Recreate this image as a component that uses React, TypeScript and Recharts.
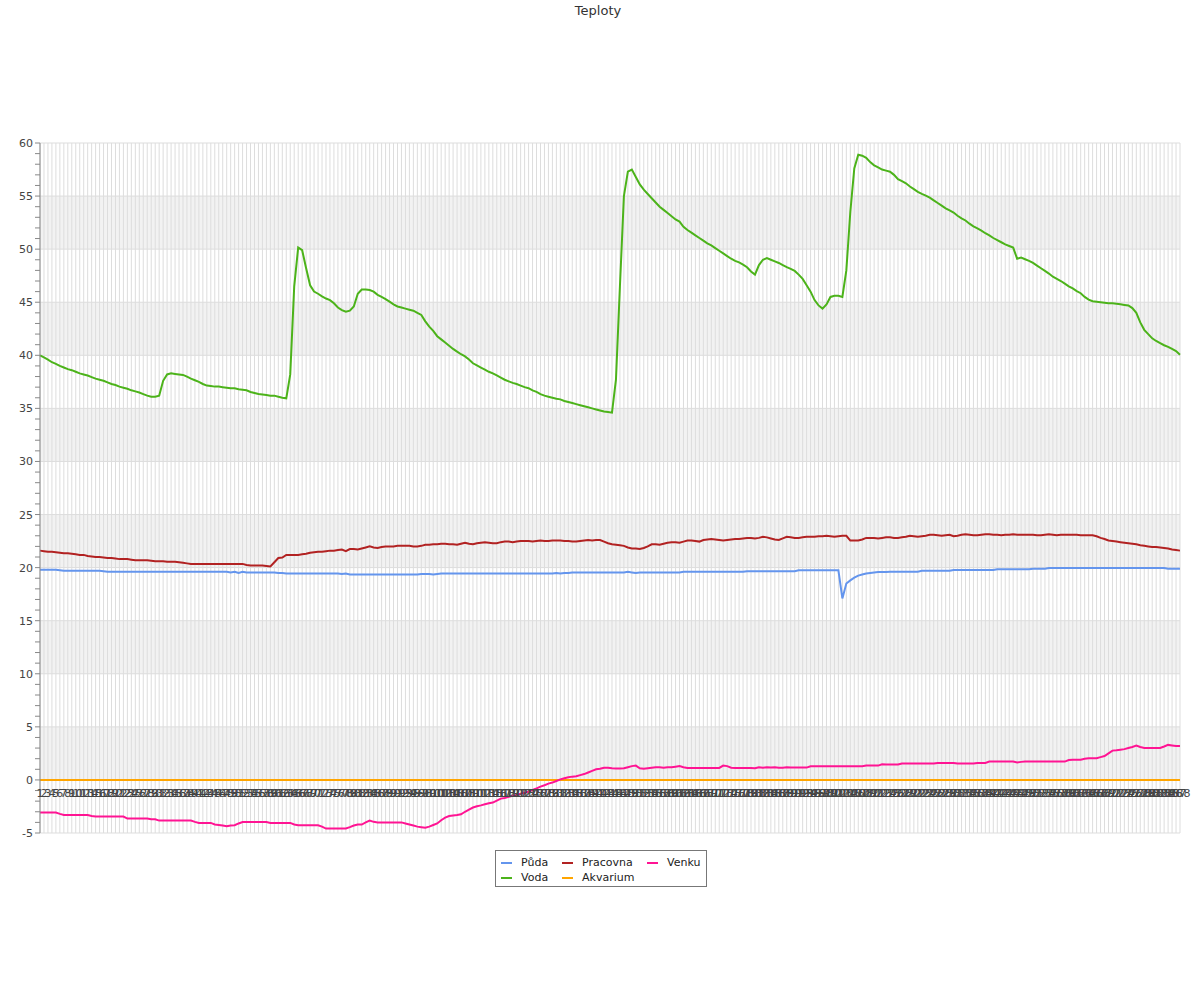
import { LineChart, Line, XAxis, YAxis, CartesianGrid, ReferenceLine } from "recharts";

// 288 measurements (every 5 minutes), labelled 1..288
const CATEGORIES = Array.from({ length: 288 }, (_, i) => String(i + 1));

const Y_TICKS = Array.from({ length: 66 }, (_, i) => i - 5);
const MAJOR_TICKS = [-5, 0, 5, 10, 15, 20, 25, 30, 35, 40, 45, 50, 55, 60];

const PUDA = [
  19.8, 19.8, 19.8, 19.8, 19.8, 19.75, 19.7, 19.7, 19.7, 19.7, 19.7, 19.7,
  19.7, 19.7, 19.7, 19.7, 19.65, 19.6, 19.6, 19.6, 19.6, 19.6, 19.6, 19.6,
  19.6, 19.6, 19.6, 19.6, 19.6, 19.6, 19.6, 19.6, 19.6, 19.6, 19.6, 19.6,
  19.6, 19.6, 19.6, 19.6, 19.6, 19.6, 19.6, 19.6, 19.6, 19.6, 19.6, 19.6,
  19.55, 19.6, 19.5, 19.6, 19.55, 19.55, 19.55, 19.55, 19.55, 19.55, 19.55, 19.55,
  19.5, 19.5, 19.45, 19.45, 19.45, 19.45, 19.45, 19.45, 19.45, 19.45, 19.45, 19.45,
  19.45, 19.45, 19.45, 19.45, 19.4, 19.45, 19.35, 19.35, 19.35, 19.35, 19.35, 19.35,
  19.35, 19.35, 19.35, 19.35, 19.35, 19.35, 19.35, 19.35, 19.35, 19.35, 19.35, 19.35,
  19.4, 19.4, 19.4, 19.35, 19.4, 19.45, 19.45, 19.45, 19.45, 19.45, 19.45, 19.45,
  19.45, 19.45, 19.45, 19.45, 19.45, 19.45, 19.45, 19.45, 19.45, 19.45, 19.45, 19.45,
  19.45, 19.45, 19.45, 19.45, 19.45, 19.45, 19.45, 19.45, 19.45, 19.45, 19.5, 19.45,
  19.5, 19.5, 19.55, 19.55, 19.55, 19.55, 19.55, 19.55, 19.55, 19.55, 19.55, 19.55,
  19.55, 19.55, 19.55, 19.55, 19.6, 19.55, 19.5, 19.55, 19.55, 19.55, 19.55, 19.55,
  19.55, 19.55, 19.55, 19.55, 19.55, 19.55, 19.6, 19.6, 19.6, 19.6, 19.6, 19.6,
  19.6, 19.6, 19.6, 19.6, 19.6, 19.6, 19.6, 19.6, 19.6, 19.6, 19.65, 19.65,
  19.65, 19.65, 19.65, 19.65, 19.65, 19.65, 19.65, 19.65, 19.65, 19.65, 19.65, 19.75,
  19.75, 19.75, 19.75, 19.75, 19.75, 19.75, 19.75, 19.75, 19.75, 19.75, 17.1, 18.5,
  18.8, 19.05, 19.25, 19.35, 19.45, 19.5, 19.55, 19.58, 19.58, 19.58, 19.62, 19.62,
  19.62, 19.62, 19.62, 19.62, 19.62, 19.62, 19.7, 19.7, 19.7, 19.7, 19.7, 19.7,
  19.7, 19.7, 19.78, 19.78, 19.78, 19.78, 19.78, 19.78, 19.78, 19.78, 19.78, 19.78,
  19.78, 19.84, 19.84, 19.84, 19.84, 19.84, 19.84, 19.84, 19.84, 19.84, 19.9, 19.9,
  19.9, 19.9, 19.97, 19.97, 19.97, 19.97, 19.97, 19.97, 19.97, 19.97, 19.97, 19.97,
  19.97, 19.97, 19.97, 19.97, 19.97, 19.97, 19.97, 19.97, 19.97, 19.97, 19.97, 19.97,
  19.97, 19.97, 19.97, 19.97, 19.97, 19.97, 19.97, 19.97, 19.9, 19.9, 19.9, 19.9,
];

const VODA = [
  40.0, 39.8, 39.6, 39.35, 39.2, 39.0, 38.85, 38.7, 38.6, 38.45, 38.3, 38.2,
  38.1, 37.95, 37.8, 37.7, 37.6, 37.45, 37.3, 37.2, 37.05, 36.95, 36.85, 36.7,
  36.6, 36.5, 36.35, 36.2, 36.1, 36.1, 36.2, 37.6, 38.2, 38.3, 38.25, 38.2,
  38.15, 38.0, 37.8, 37.65, 37.5, 37.3, 37.15, 37.1, 37.05, 37.05, 37.0, 36.95,
  36.9, 36.9, 36.8, 36.75, 36.7, 36.55, 36.45, 36.35, 36.3, 36.25, 36.2, 36.2,
  36.1, 36.0, 35.95, 38.2, 46.5, 50.15, 49.9, 48.2, 46.6, 46.0, 45.8, 45.55,
  45.35, 45.2, 44.9, 44.5, 44.25, 44.1, 44.2, 44.6, 45.8, 46.2, 46.2, 46.15,
  46.0, 45.7, 45.5, 45.3, 45.05, 44.8, 44.6, 44.5, 44.4, 44.3, 44.2, 44.0,
  43.8, 43.2, 42.7, 42.3, 41.8, 41.5, 41.2, 40.9, 40.6, 40.35, 40.1, 39.9,
  39.6, 39.25, 39.05, 38.85, 38.65, 38.45, 38.3, 38.1, 37.9, 37.7, 37.55, 37.4,
  37.3, 37.15, 37.0, 36.9, 36.7, 36.55, 36.35, 36.2, 36.1, 36.0, 35.9, 35.85,
  35.7, 35.6, 35.5, 35.4, 35.3, 35.2, 35.1, 35.0, 34.9, 34.8, 34.7, 34.65,
  34.6, 37.7, 46.5, 55.0, 57.3, 57.5, 56.8, 56.1, 55.6, 55.2, 54.8, 54.4,
  54.0, 53.7, 53.4, 53.1, 52.8, 52.6, 52.1, 51.8, 51.55, 51.3, 51.05, 50.8,
  50.55, 50.35, 50.1, 49.85, 49.6, 49.35, 49.1, 48.9, 48.75, 48.55, 48.3, 47.9,
  47.6, 48.5, 49.0, 49.15, 49.0, 48.85, 48.7, 48.5, 48.3, 48.15, 47.95, 47.6,
  47.2, 46.6, 46.0, 45.2, 44.7, 44.4, 44.8, 45.5, 45.6, 45.6, 45.5, 48.0,
  53.5, 57.6, 58.9, 58.8, 58.6, 58.2, 57.9, 57.7, 57.5, 57.4, 57.3, 57.0,
  56.6, 56.4, 56.2, 55.9, 55.65, 55.4, 55.2, 55.05, 54.85, 54.6, 54.35, 54.1,
  53.85, 53.65, 53.45, 53.15, 52.9, 52.7, 52.4, 52.15, 51.95, 51.75, 51.5, 51.3,
  51.05, 50.85, 50.65, 50.45, 50.3, 50.15, 49.1, 49.2, 49.05, 48.9, 48.7, 48.45,
  48.2, 47.95, 47.7, 47.4, 47.2, 47.0, 46.75, 46.5, 46.3, 46.05, 45.85, 45.5,
  45.25, 45.1, 45.05, 45.0, 44.95, 44.9, 44.9, 44.85, 44.8, 44.75, 44.7, 44.45,
  44.0, 43.1, 42.4, 42.0, 41.6, 41.35, 41.15, 40.95, 40.8, 40.6, 40.4, 40.05,
];

const PRACOVNA = [
  21.6, 21.55, 21.5, 21.5, 21.45, 21.4, 21.35, 21.35, 21.3, 21.25, 21.2, 21.2,
  21.1, 21.05, 21.0, 21.0, 20.95, 20.9, 20.9, 20.85, 20.8, 20.8, 20.8, 20.75,
  20.7, 20.7, 20.7, 20.7, 20.65, 20.6, 20.6, 20.6, 20.55, 20.55, 20.55, 20.5,
  20.45, 20.4, 20.35, 20.35, 20.35, 20.35, 20.35, 20.35, 20.35, 20.35, 20.35, 20.35,
  20.35, 20.35, 20.35, 20.35, 20.25, 20.2, 20.2, 20.2, 20.2, 20.15, 20.1, 20.5,
  20.9, 20.95, 21.2, 21.2, 21.2, 21.2, 21.25, 21.3, 21.4, 21.45, 21.5, 21.5,
  21.55, 21.6, 21.6, 21.65, 21.7, 21.55, 21.75, 21.75, 21.7, 21.8, 21.9, 22.0,
  21.9, 21.85, 21.95, 22.0, 22.0, 22.0, 22.05, 22.05, 22.05, 22.05, 22.0, 22.0,
  22.05, 22.15, 22.15, 22.2, 22.2, 22.25, 22.25, 22.2, 22.2, 22.15, 22.25, 22.35,
  22.25, 22.2, 22.3, 22.35, 22.4, 22.35, 22.3, 22.3, 22.4, 22.45, 22.45, 22.4,
  22.45, 22.5, 22.5, 22.5, 22.45, 22.5, 22.55, 22.5, 22.5, 22.55, 22.55, 22.55,
  22.5, 22.5, 22.45, 22.45, 22.5, 22.55, 22.6, 22.55, 22.6, 22.6, 22.45, 22.3,
  22.2, 22.15, 22.1, 22.05, 21.9, 21.8, 21.8, 21.75, 21.85, 22.0, 22.2, 22.2,
  22.15, 22.25, 22.35, 22.4, 22.4, 22.35, 22.45, 22.55, 22.55, 22.5, 22.45, 22.6,
  22.65, 22.7, 22.65, 22.6, 22.55, 22.6, 22.65, 22.7, 22.7, 22.75, 22.8, 22.8,
  22.75, 22.8, 22.9, 22.85, 22.75, 22.65, 22.6, 22.75, 22.9, 22.85, 22.8, 22.8,
  22.85, 22.9, 22.9, 22.9, 22.95, 22.95, 23.0, 22.95, 22.9, 22.95, 23.0, 23.0,
  22.55, 22.55, 22.55, 22.65, 22.8, 22.8, 22.8, 22.75, 22.8, 22.85, 22.85, 22.8,
  22.8, 22.85, 22.9, 23.0, 22.95, 22.9, 22.95, 23.0, 23.1, 23.1, 23.05, 23.0,
  23.05, 23.1, 22.95, 23.0, 23.1, 23.15, 23.1, 23.05, 23.05, 23.1, 23.15, 23.15,
  23.1, 23.1, 23.05, 23.1, 23.1, 23.15, 23.1, 23.1, 23.1, 23.1, 23.1, 23.05,
  23.05, 23.1, 23.15, 23.1, 23.05, 23.1, 23.1, 23.1, 23.1, 23.1, 23.05, 23.05,
  23.05, 23.05, 22.95, 22.8, 22.7, 22.55, 22.5, 22.45, 22.4, 22.35, 22.3, 22.25,
  22.2, 22.1, 22.05, 22.0, 21.95, 21.95, 21.9, 21.85, 21.8, 21.7, 21.65, 21.6,
];

const AKVARIUM = [
  0, 0, 0, 0, 0, 0, 0, 0, 0, 0, 0, 0, 0, 0, 0, 0, 0, 0, 0, 0, 0, 0, 0, 0,
  0, 0, 0, 0, 0, 0, 0, 0, 0, 0, 0, 0, 0, 0, 0, 0, 0, 0, 0, 0, 0, 0, 0, 0,
  0, 0, 0, 0, 0, 0, 0, 0, 0, 0, 0, 0, 0, 0, 0, 0, 0, 0, 0, 0, 0, 0, 0, 0,
  0, 0, 0, 0, 0, 0, 0, 0, 0, 0, 0, 0, 0, 0, 0, 0, 0, 0, 0, 0, 0, 0, 0, 0,
  0, 0, 0, 0, 0, 0, 0, 0, 0, 0, 0, 0, 0, 0, 0, 0, 0, 0, 0, 0, 0, 0, 0, 0,
  0, 0, 0, 0, 0, 0, 0, 0, 0, 0, 0, 0, 0, 0, 0, 0, 0, 0, 0, 0, 0, 0, 0, 0,
  0, 0, 0, 0, 0, 0, 0, 0, 0, 0, 0, 0, 0, 0, 0, 0, 0, 0, 0, 0, 0, 0, 0, 0,
  0, 0, 0, 0, 0, 0, 0, 0, 0, 0, 0, 0, 0, 0, 0, 0, 0, 0, 0, 0, 0, 0, 0, 0,
  0, 0, 0, 0, 0, 0, 0, 0, 0, 0, 0, 0, 0, 0, 0, 0, 0, 0, 0, 0, 0, 0, 0, 0,
  0, 0, 0, 0, 0, 0, 0, 0, 0, 0, 0, 0, 0, 0, 0, 0, 0, 0, 0, 0, 0, 0, 0, 0,
  0, 0, 0, 0, 0, 0, 0, 0, 0, 0, 0, 0, 0, 0, 0, 0, 0, 0, 0, 0, 0, 0, 0, 0,
  0, 0, 0, 0, 0, 0, 0, 0, 0, 0, 0, 0, 0, 0, 0, 0, 0, 0, 0, 0, 0, 0, 0, 0,
];

const VENKU = [
  -3.08, -3.08, -3.08, -3.08, -3.08, -3.2, -3.3, -3.3, -3.3, -3.3, -3.3, -3.3,
  -3.3, -3.4, -3.45, -3.45, -3.45, -3.45, -3.45, -3.45, -3.45, -3.45, -3.64, -3.64,
  -3.64, -3.64, -3.64, -3.64, -3.7, -3.7, -3.83, -3.83, -3.83, -3.83, -3.83, -3.83,
  -3.83, -3.83, -3.83, -3.95, -4.05, -4.05, -4.05, -4.05, -4.2, -4.25, -4.3, -4.36,
  -4.3, -4.27, -4.1, -3.96, -3.96, -3.96, -3.96, -3.96, -3.96, -3.96, -4.05, -4.05,
  -4.05, -4.05, -4.05, -4.05, -4.2, -4.27, -4.27, -4.27, -4.27, -4.27, -4.27, -4.4,
  -4.58, -4.58, -4.58, -4.58, -4.58, -4.58, -4.45, -4.3, -4.2, -4.2, -4.0, -3.83,
  -3.95, -4.0, -4.0, -4.0, -4.0, -4.0, -4.0, -4.0, -4.1, -4.2, -4.3, -4.4,
  -4.45, -4.5, -4.4, -4.25, -4.1, -3.8, -3.55, -3.4, -3.35, -3.3, -3.24, -3.0,
  -2.8, -2.6, -2.48, -2.4, -2.3, -2.2, -2.13, -1.95, -1.76, -1.7, -1.6, -1.5,
  -1.41, -1.3, -1.2, -1.1, -0.95, -0.8, -0.63, -0.5, -0.35, -0.25, -0.1, 0.05,
  0.15, 0.25, 0.31, 0.35, 0.45, 0.55, 0.7, 0.85, 1.0, 1.05, 1.15, 1.15,
  1.1, 1.07, 1.07, 1.1, 1.2, 1.3, 1.35, 1.1, 1.05, 1.1, 1.15, 1.2,
  1.2, 1.15, 1.2, 1.2, 1.25, 1.3, 1.2, 1.13, 1.13, 1.13, 1.13, 1.13,
  1.13, 1.13, 1.13, 1.13, 1.35, 1.3, 1.15, 1.13, 1.13, 1.13, 1.13, 1.13,
  1.1, 1.2, 1.15, 1.2, 1.18, 1.2, 1.15, 1.15, 1.2, 1.16, 1.16, 1.16,
  1.16, 1.16, 1.29, 1.29, 1.29, 1.29, 1.29, 1.29, 1.29, 1.29, 1.29, 1.29,
  1.29, 1.29, 1.29, 1.29, 1.35, 1.35, 1.35, 1.35, 1.48, 1.45, 1.45, 1.45,
  1.45, 1.54, 1.54, 1.54, 1.54, 1.54, 1.55, 1.55, 1.55, 1.55, 1.6, 1.6,
  1.6, 1.6, 1.6, 1.54, 1.54, 1.54, 1.54, 1.54, 1.6, 1.6, 1.6, 1.73,
  1.73, 1.73, 1.73, 1.73, 1.73, 1.73, 1.65, 1.7, 1.73, 1.73, 1.73, 1.73,
  1.73, 1.73, 1.73, 1.73, 1.73, 1.73, 1.73, 1.88, 1.9, 1.9, 1.9, 2.0,
  2.05, 2.05, 2.05, 2.15, 2.25, 2.5, 2.76, 2.8, 2.85, 2.9, 3.0, 3.1,
  3.23, 3.1, 3.01, 3.01, 3.01, 3.01, 3.01, 3.15, 3.3, 3.25, 3.2, 3.2,
];

const SERIES = [
  { key: "puda", name: "Půda", color: "#6495ED", values: PUDA },
  { key: "voda", name: "Voda", color: "#4CB31A", values: VODA },
  { key: "pracovna", name: "Pracovna", color: "#B22222", values: PRACOVNA },
  { key: "akvarium", name: "Akvarium", color: "#FFA500", values: AKVARIUM },
  { key: "venku", name: "Venku", color: "#FF1493", values: VENKU },
];

const data = CATEGORIES.map((n, i) => {
  const row: Record<string, string | number> = { n };
  SERIES.forEach((s) => {
    row[s.key] = s.values[i];
  });
  return row;
});

const FONT = "'DejaVu Sans', sans-serif";

// x labels sit just under the zero line, not at the bottom of the plot
function XTick({ x, y, payload }: any) {
  return (
    <text x={x} y={y - 36} textAnchor="middle" fontSize={11} fill="#444" fontFamily={FONT}>
      {payload.value}
    </text>
  );
}

function YTick({ x, y, payload }: any) {
  if (payload.value % 5 !== 0) return <g />;
  return (
    <text x={x} y={y} dy={4} textAnchor="end" fontSize={11} fill="#444" fontFamily={FONT}>
      {payload.value}
    </text>
  );
}

function ChartLegend() {
  const cols = [
    [SERIES[0], SERIES[1]],
    [SERIES[2], SERIES[3]],
    [SERIES[4]],
  ];
  const colWidths = [61, 85, 58];
  return (
    <div
      style={{
        position: "absolute",
        left: 495,
        top: 850,
        width: 212,
        height: 37,
        border: "1px solid #777",
        background: "#fff",
        display: "flex",
        paddingLeft: 5,
        boxSizing: "border-box",
        fontFamily: FONT,
        fontSize: 11,
        color: "#222",
      }}
    >
      {cols.map((col, ci) => (
        <div key={ci} style={{ width: colWidths[ci], paddingTop: 4 }}>
          {col.map((s) => (
            <div key={s.key} style={{ display: "flex", alignItems: "center", height: 15 }}>
              <span
                style={{ display: "inline-block", width: 11, height: 2, background: s.color, marginRight: 9 }}
              />
              <span>{s.name}</span>
            </div>
          ))}
        </div>
      ))}
    </div>
  );
}

export default function App() {
  return (
    <div style={{ position: "absolute", left: 0, top: 0, width: 1200, height: 1000, background: "#fff" }}>
      <div
        style={{
          position: "absolute",
          top: 3,
          left: 0,
          width: 1196,
          textAlign: "center",
          fontFamily: FONT,
          fontSize: 13,
          color: "#333",
        }}
      >
        Teploty
      </div>
      <LineChart width={1200} height={1000} data={data} margin={{ top: 143, right: 20, left: 0, bottom: 137 }}>
        <CartesianGrid
          stroke="#dddddd"
          horizontalValues={MAJOR_TICKS}
          horizontalFill={["rgba(0,0,0,0)", "rgba(0,0,0,0.05)"]}
          fillOpacity={1}
        />
        <XAxis
          dataKey="n"
          interval={0}
          height={30}
          axisLine={false}
          tickLine={false}
          tickSize={0}
          tickMargin={0}
          tick={<XTick />}
        />
        <YAxis
          type="number"
          domain={[-5, 60]}
          ticks={Y_TICKS}
          interval={0}
          width={40}
          stroke="#888"
          tickSize={5}
          tick={<YTick />}
        />
        <ReferenceLine y={0} stroke="#888" />
        {SERIES.map((s) => (
          <Line
            key={s.key}
            type="linear"
            dataKey={s.key}
            name={s.name}
            stroke={s.color}
            strokeWidth={2}
            dot={false}
            activeDot={false}
            isAnimationActive={false}
          />
        ))}
      </LineChart>
      <ChartLegend />
    </div>
  );
}
